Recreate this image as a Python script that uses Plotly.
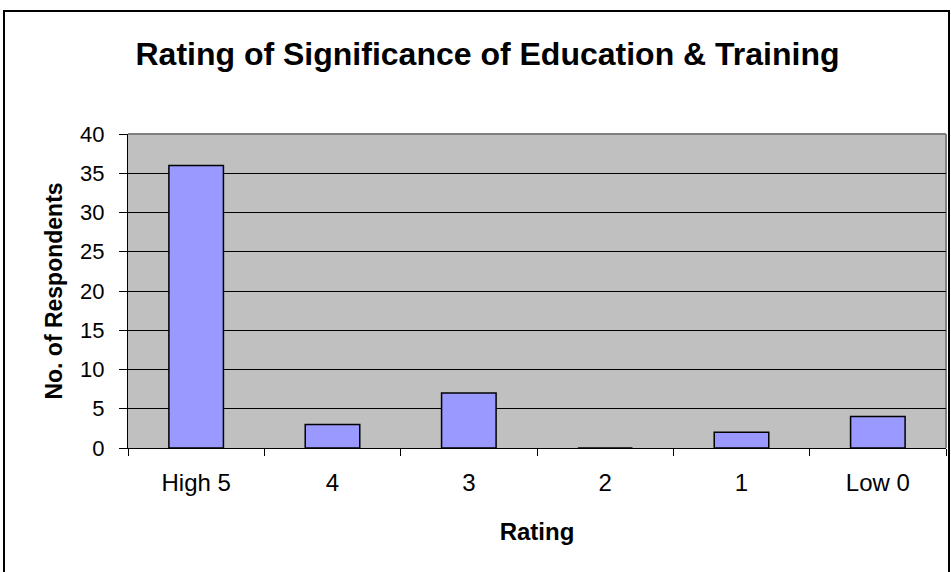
import plotly.graph_objects as go

categories = ["High 5", "4", "3", "2", "1", "Low 0"]
respondents = [36, 3, 7, 0, 2, 4]
y_ticks = [0, 5, 10, 15, 20, 25, 30, 35, 40]

W, H = 951, 572
L, R, T, B = 128, 5, 134, 124
pw, ph = W - L - R, H - T - B

def px_x(x):
    return (x - L) / pw

def px_y(y):
    return (H - B - y) / ph

FONT = "Arial, 'Liberation Sans', sans-serif"

fig = go.Figure(
    go.Bar(
        x=categories,
        y=respondents,
        width=0.4,
        marker=dict(color="#9999FF", line=dict(color="#000000", width=1.5)),
    )
)

fig.update_layout(
    width=W,
    height=H,
    margin=dict(l=L, r=R, t=T, b=B, pad=0),
    paper_bgcolor="white",
    plot_bgcolor="#C0C0C0",
    showlegend=False,
    font=dict(family=FONT, color="black", size=22),
    title=dict(
        text="<b>Rating of Significance of Education &amp; Training</b>",
        font=dict(family=FONT, size=32, color="black"),
        x=487.5 / W,
        xanchor="center",
        xref="container",
        y=1 - 54 / H,
        yanchor="middle",
        yref="container",
    ),
    xaxis=dict(
        type="category",
        showline=True,
        linecolor="black",
        linewidth=1,
        ticks="outside",
        tickson="boundaries",
        ticklen=7,
        tickcolor="black",
        tickfont=dict(size=24),
        ticklabelstandoff=13,
        showgrid=False,
        title=dict(text="<b>Rating</b>", font=dict(size=24), standoff=28),
    ),
    yaxis=dict(
        range=[0, 40],
        tickvals=y_ticks,
        showline=True,
        linecolor="black",
        linewidth=1,
        ticks="outside",
        ticklen=8,
        tickcolor="black",
        tickfont=dict(size=22),
        ticklabelstandoff=10,
        showgrid=True,
        gridcolor="#000000",
        gridwidth=1,
        zeroline=False,
        title=dict(text="<b>No. of Respondents</b>", font=dict(size=23), standoff=11),
    ),
    shapes=[
        dict(type="line", xref="paper", yref="paper", x0=0, x1=1, y0=1, y1=1,
             line=dict(color="#808080", width=2), layer="below"),
        dict(type="line", xref="paper", yref="paper", x0=1, x1=1, y0=0, y1=1,
             line=dict(color="#808080", width=2), layer="below"),
        dict(type="rect", xref="paper", yref="paper",
             x0=px_x(4), x1=px_x(949), y0=px_y(590), y1=px_y(11),
             line=dict(color="black", width=2), fillcolor="rgba(0,0,0,0)"),
    ],
)

fig.write_html(
    "out.html",
    config={"displayModeBar": False},
    post_script="document.body.style.margin='0';document.body.style.overflow='hidden';",
)
